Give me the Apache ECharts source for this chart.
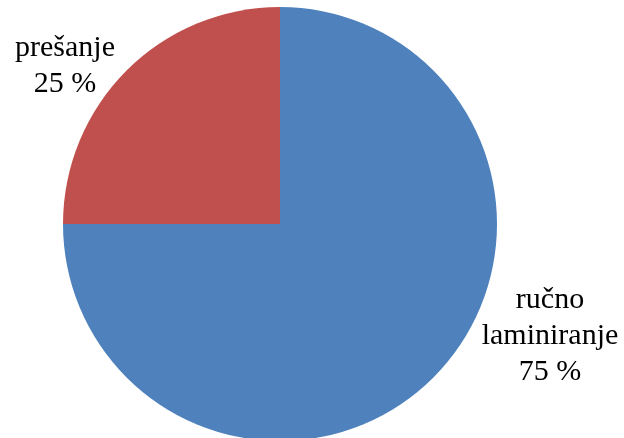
<!DOCTYPE html>
<html>
<head>
<meta charset="utf-8">
<script src="https://cdn.jsdelivr.net/npm/echarts@6/dist/echarts.min.js"></script>
<style>
  html, body { margin: 0; padding: 0; background: #fff; }
  #chart { width: 624px; height: 438px; }
</style>
</head>
<body>
<div id="chart"></div>
<script>
// podaci
const categories = ["ručno laminiranje", "prešanje"];
const values = [75, 25];
const colors = ["#4F81BD", "#C0504D"];

const chart = echarts.init(document.getElementById("chart"));

// gdje idu oznake (lijevo gore / desno dolje)
const labelSpots = [
  { x: 550, y: 336 },
  { x: 65, y: 66 },
];

chart.setOption({
  animation: false,
  series: [
    {
      type: "pie",
      center: [280, 224],
      radius: 217,
      startAngle: 90,
      clockwise: true,
      data: categories.map((name, i) => ({
        name,
        value: values[i],
        itemStyle: { color: colors[i] },
      })),
      label: {
        show: true,
        position: "outside",
        formatter: (p) => p.name.replace(" ", "\n") + "\n" + p.value + " %",
        fontFamily: "Liberation Serif",
        fontSize: 30,
        lineHeight: 36,
        color: "#000",
        align: "center",
        overflow: "none",
        width: 200,
      },
      labelLine: { show: false },
      labelLayout: (params) => ({
        x: labelSpots[params.dataIndex].x,
        y: labelSpots[params.dataIndex].y,
        align: "center",
        verticalAlign: "middle",
        hideOverlap: false,
      }),
      emphasis: { disabled: true },
    },
  ],
});
</script>
</body>
</html>
